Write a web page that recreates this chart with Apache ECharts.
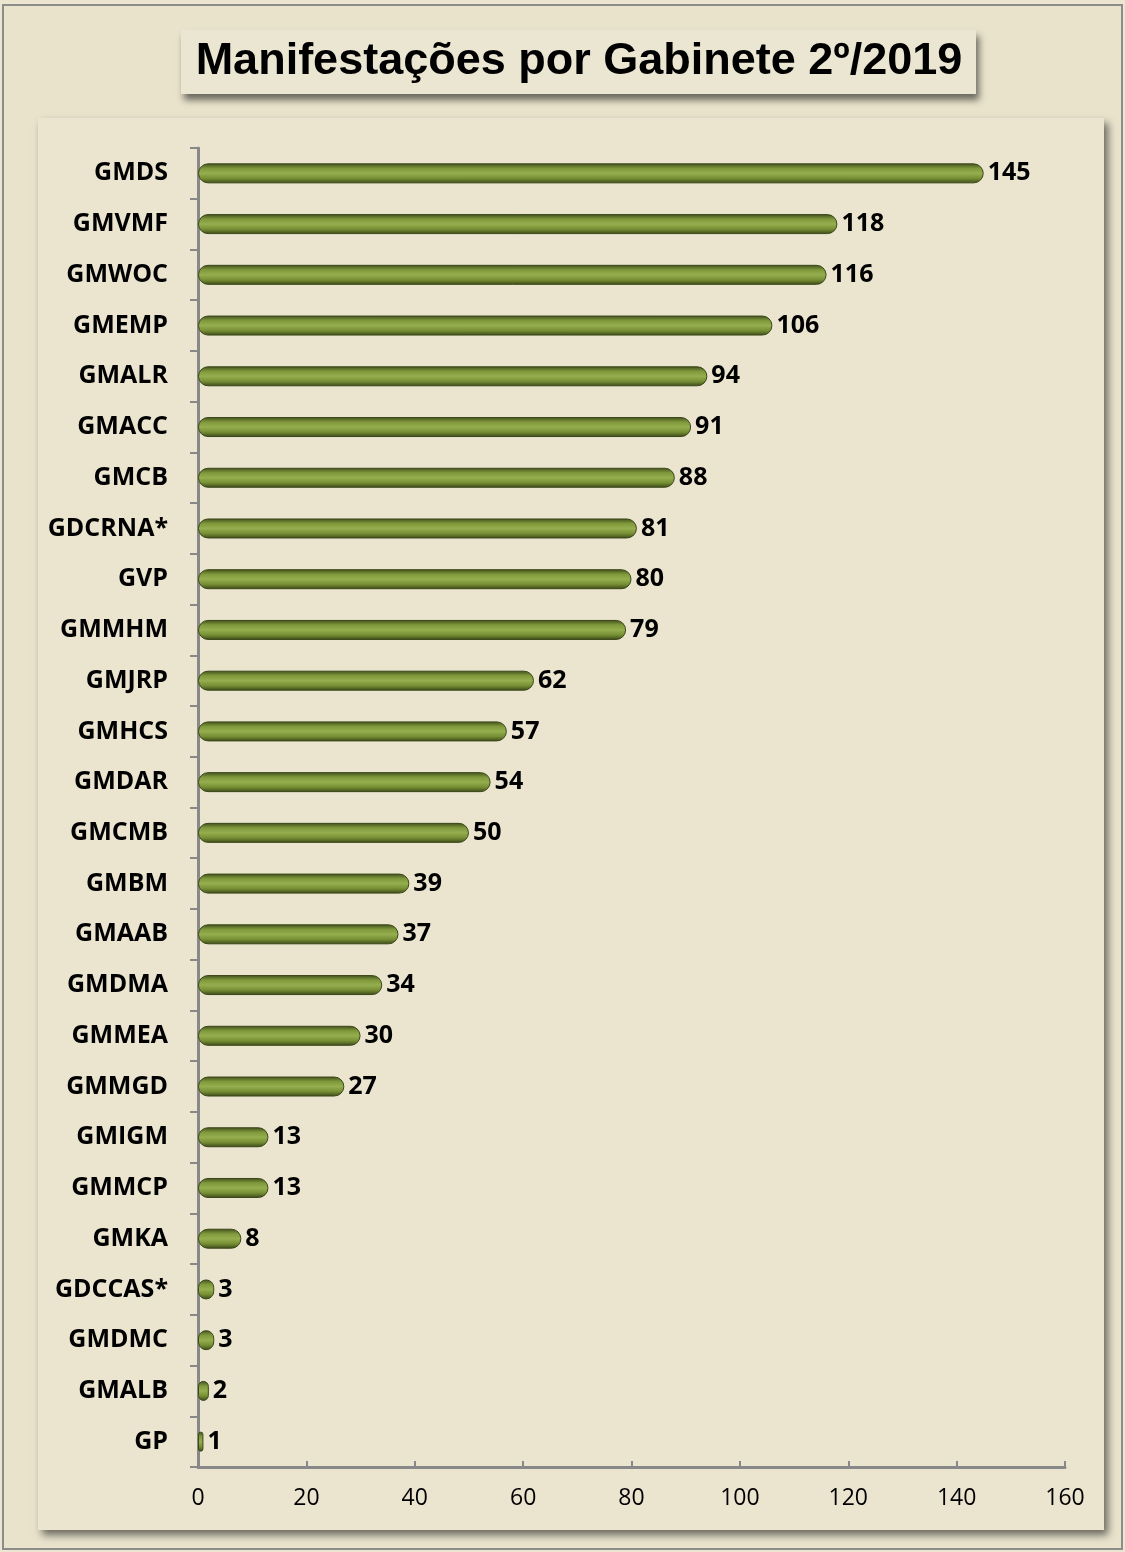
<!DOCTYPE html>
<html lang="pt">
<head>
    <meta charset="UTF-8">
    <title>Manifestações por Gabinete</title>
    <script src="https://cdn.jsdelivr.net/npm/echarts@6/dist/echarts.min.js"></script>
    <style>
        html, body {
            margin: 0;
            padding: 0;
            background-color: #fff;
        }

        #main {
            width: 1125px;
            height: 1552px;
        }
    </style>
</head>
<body>
    <div id="main"></div>
</body>
<script>
    const titulo = 'Manifestações por Gabinete 2º/2019';

    const gabinetes = ['GMDS', 'GMVMF', 'GMWOC', 'GMEMP', 'GMALR', 'GMACC', 'GMCB', 'GDCRNA*', 'GVP',
        'GMMHM', 'GMJRP', 'GMHCS', 'GMDAR', 'GMCMB', 'GMBM', 'GMAAB', 'GMDMA', 'GMMEA', 'GMMGD',
        'GMIGM', 'GMMCP', 'GMKA', 'GDCCAS*', 'GMDMC', 'GMALB', 'GP'];

    const manifestacoes = [145, 118, 116, 106, 94, 91, 88, 81, 80, 79, 62, 57, 54, 50, 39, 37, 34, 30, 27,
        13, 13, 8, 3, 3, 2, 1];

    let chart = echarts.init(document.getElementById('main'));

    // verde "cilindro" do gráfico original
    let barColor = new echarts.graphic.LinearGradient(0, 0, 0, 1, [
        { offset: 0, color: '#3f4d1b' },
        { offset: 0.25, color: '#7f983b' },
        { offset: 0.5, color: '#95ae4e' },
        { offset: 0.75, color: '#778f34' },
        { offset: 1, color: '#3a4718' }
    ]);

    let option = {
        backgroundColor: '#ece6d1',
        animation: false,
        graphic: [
            {
                // moldura externa
                type: 'rect',
                z: -10,
                shape: { x: 3, y: 5, width: 1119, height: 1544 },
                style: { fill: '#e9e3cc', stroke: '#8c8c8c', lineWidth: 2 }
            },
            {
                // painel interno
                type: 'rect',
                z: -9,
                shape: { x: 38, y: 118, width: 1066, height: 1412 },
                style: {
                    fill: '#ebe5d0',
                    shadowColor: 'rgba(0,0,0,0.55)',
                    shadowBlur: 8,
                    shadowOffsetX: 4,
                    shadowOffsetY: 5
                }
            },
            {
                // caixa do título
                type: 'rect',
                z: -8,
                shape: { x: 181, y: 30, width: 795, height: 64 },
                style: {
                    fill: '#ebe6d2',
                    shadowColor: 'rgba(0,0,0,0.55)',
                    shadowBlur: 7,
                    shadowOffsetX: 3,
                    shadowOffsetY: 6
                }
            },
            {
                type: 'text',
                z: 10,
                x: 579,
                y: 62,
                style: {
                    text: titulo,
                    fill: '#000',
                    font: 'bold 45px "Liberation Sans", Arial, sans-serif',
                    align: 'center',
                    verticalAlign: 'middle'
                }
            }
        ],
        grid: {
            left: 198,
            right: 60,
            top: 148,
            bottom: 85,
            containLabel: false
        },
        xAxis: {
            type: 'value',
            min: 0,
            max: 160,
            interval: 20,
            splitLine: { show: false },
            axisLine: { show: true, lineStyle: { color: '#888', width: 3 } },
            axisTick: { show: true, inside: true, length: 6, lineStyle: { color: '#888', width: 2 } },
            axisLabel: {
                color: '#000',
                fontSize: 23,
                fontFamily: '"Open Sans", sans-serif',
                margin: 20
            }
        },
        yAxis: {
            type: 'category',
            inverse: true,
            data: gabinetes,
            axisLine: { show: true, lineStyle: { color: '#888', width: 3 } },
            axisTick: { show: true, length: 8, lineStyle: { color: '#888', width: 2 } },
            axisLabel: {
                color: '#000',
                fontSize: 25,
                fontWeight: 'bold',
                fontFamily: '"Open Sans", sans-serif',
                margin: 30
            }
        },
        series: [
            {
                type: 'bar',
                data: manifestacoes,
                barWidth: 20,
                itemStyle: {
                    color: barColor,
                    borderRadius: 10,
                    borderColor: '#3a4718',
                    borderWidth: 1
                },
                label: {
                    show: true,
                    position: 'right',
                    distance: 4,
                    color: '#000',
                    fontSize: 25,
                    fontWeight: 'bold',
                    fontFamily: '"Open Sans", sans-serif'
                }
            }
        ]
    };

    chart.setOption(option);
</script>
</html>
